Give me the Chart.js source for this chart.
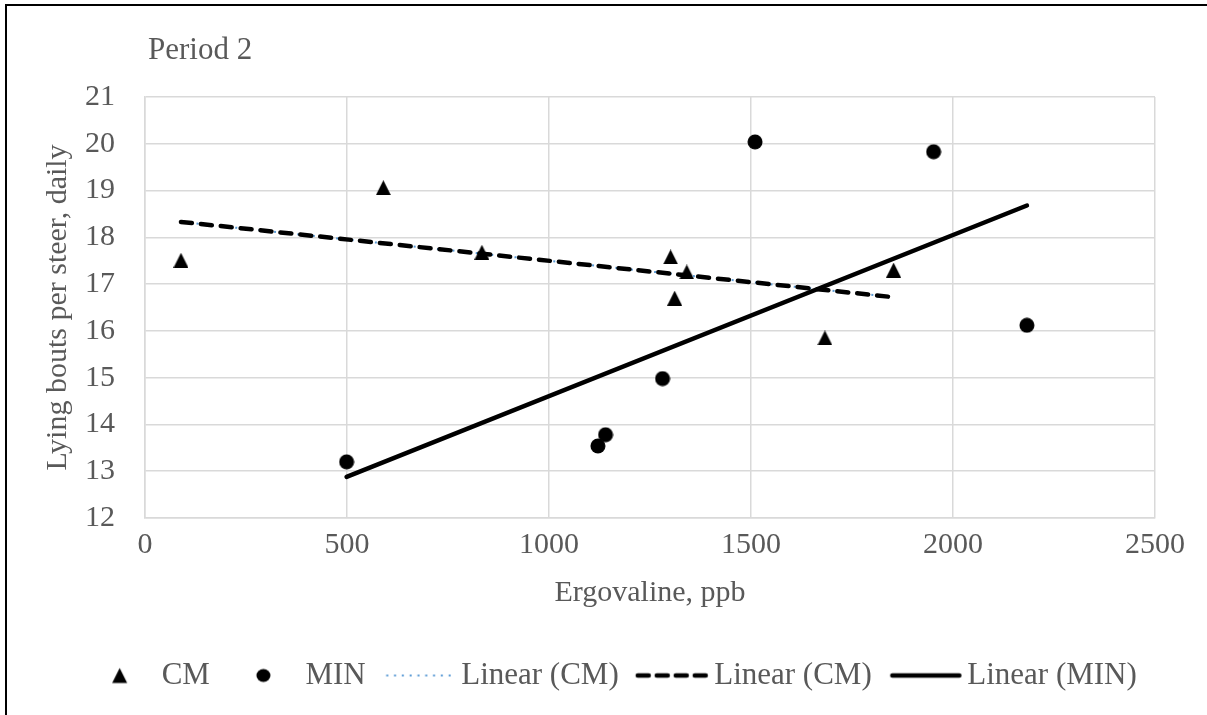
<!DOCTYPE html>
<html>
<head>
<meta charset="utf-8">
<script src="https://cdn.jsdelivr.net/npm/chart.js@4"></script>
<style>
  html, body { margin: 0; padding: 0; overflow: hidden; background: #fff; }
  #frame { position: absolute; left: 5px; top: 4px; width: 1300px; height: 800px; border: 2px solid #000; }
  #chart { position: absolute; left: 0; top: 0; }
</style>
</head>
<body>
<div id="frame"></div>
<canvas id="chart" width="1207" height="715"></canvas>
<script>
// values
const cmX = [89, 590, 834, 1301, 1311, 1341, 1683, 1853];
const cmY = [17.51, 19.06, 17.68, 17.58, 16.70, 17.26, 15.85, 17.30];
const minX = [499, 1121, 1140, 1281, 1510, 1952, 2183];
const minY = [13.20, 13.54, 13.78, 14.98, 20.04, 19.83, 16.12];
// trendline ends as drawn in the picture
const cmTrendX = [89, 1853];
const cmTrendY = [18.33, 16.72];
const minTrendX = [499, 2183];
const minTrendY = [12.88, 18.68];

const legendNames = ['CM', 'MIN', 'Linear (CM)', 'Linear (CM)', 'Linear (MIN)'];
const xTitle = 'Ergovaline, ppb';
const yTitle = 'Lying bouts per steer, daily';
const panelLabel = 'Period 2';

const fontFamily = "'Liberation Serif', 'Times New Roman', serif";
const textColor = '#595959';
const gridColor = '#d9d9d9';
const blue = '#5B9BD5';

const toPoints = (xs, ys) => xs.map((x, i) => ({x: x, y: ys[i]}));

// marker images so that the triangle sits centred on its point
function triangleImg() {
  const c = document.createElement('canvas');
  c.width = 15; c.height = 15;
  const g = c.getContext('2d');
  g.fillStyle = '#000';
  g.beginPath();
  g.moveTo(7.5, 0); g.lineTo(15, 15); g.lineTo(0, 15);
  g.closePath(); g.fill();
  return c;
}
function circleImg() {
  const c = document.createElement('canvas');
  c.width = 16; c.height = 16;
  const g = c.getContext('2d');
  g.fillStyle = '#000';
  g.beginPath(); g.arc(8, 8, 7.5, 0, Math.PI * 2); g.fill();
  return c;
}

// legend symbols, 110 wide, centre at 55
function legendSymbol(kind) {
  const c = document.createElement('canvas');
  c.width = 110; c.height = 20;
  const g = c.getContext('2d');
  const cx = 55, cy = 10;
  if (kind === 'tri') {
    g.fillStyle = '#000';
    g.beginPath();
    g.moveTo(cx + 8.5, cy - 7.5); g.lineTo(cx + 16, cy + 7.5); g.lineTo(cx + 1, cy + 7.5);
    g.closePath(); g.fill();
  } else if (kind === 'circ') {
    g.fillStyle = '#000';
    g.beginPath(); g.ellipse(cx + 8.5, cy, 7, 6.5, 0, 0, Math.PI * 2); g.fill();
  } else if (kind === 'dot') {
    g.strokeStyle = blue; g.lineWidth = 2;
    g.setLineDash([2, 5.8]);
    g.beginPath(); g.moveTo(cx - 24.5, cy); g.lineTo(cx + 45.5, cy); g.stroke();
  } else if (kind === 'dash') {
    g.strokeStyle = '#000'; g.lineWidth = 4.5; g.lineCap = 'round';
    g.setLineDash([11, 8]);
    g.beginPath(); g.moveTo(cx - 26, cy); g.lineTo(cx + 44, cy); g.stroke();
  } else {
    g.strokeStyle = '#000'; g.lineWidth = 4.5; g.lineCap = 'round';
    g.beginPath(); g.moveTo(cx - 24.5, cy); g.lineTo(cx + 42.5, cy); g.stroke();
  }
  return c;
}

const legendKinds = ['tri', 'circ', 'dot', 'dash', 'solid'];

const panelLabelPlugin = {
  id: 'panelLabel',
  afterDraw(chart) {
    const ctx = chart.ctx;
    ctx.save();
    ctx.font = '31px ' + fontFamily;
    ctx.fillStyle = textColor;
    ctx.textBaseline = 'alphabetic';
    ctx.fillText(panelLabel, 148, 59);
    ctx.restore();
  }
};

const data = {
  datasets: [
    {
      label: legendNames[0],
      data: toPoints(cmX, cmY),
      pointStyle: triangleImg(),
      order: 3
    },
    {
      label: legendNames[1],
      data: toPoints(minX, minY),
      pointStyle: circleImg(),
      order: 4
    },
    {
      label: legendNames[2],
      data: toPoints(cmTrendX, cmTrendY),
      showLine: true,
      borderColor: blue,
      borderWidth: 2,
      borderDash: [2, 5.8],
      pointRadius: 0,
      order: 2
    },
    {
      label: legendNames[3],
      data: toPoints(cmTrendX, cmTrendY),
      showLine: true,
      borderColor: '#000',
      borderWidth: 4.5,
      borderDash: [11, 9],
      borderCapStyle: 'round',
      pointRadius: 0,
      order: 1
    },
    {
      label: legendNames[4],
      data: toPoints(minTrendX, minTrendY),
      showLine: true,
      borderColor: '#000',
      borderWidth: 4.5,
      borderCapStyle: 'round',
      pointRadius: 0,
      order: 0
    }
  ]
};

const config = {
  type: 'scatter',
  data: data,
  options: {
    responsive: false,
    animation: false,
    layout: {
      padding: {left: 58, right: 52, top: 97, bottom: 14}
    },
    plugins: {
      tooltip: {enabled: false},
      title: {display: false},
      legend: {
        position: 'bottom',
        labels: {
          usePointStyle: true,
          pointStyleWidth: 70,
          padding: 10,
          color: textColor,
          font: {family: fontFamily, size: 31},
          generateLabels: (chart) => legendNames.map((name, i) => ({
            text: name,
            pointStyle: legendSymbol(legendKinds[i]),
            fillStyle: '#000',
            strokeStyle: '#000',
            lineWidth: 0,
            hidden: false,
            datasetIndex: i,
            fontColor: textColor
          }))
        }
      }
    },
    scales: {
      x: {
        type: 'linear',
        min: 0,
        max: 2500,
        afterFit: (s) => { s.height = 132; },
        grid: {color: gridColor, lineWidth: 1.5, drawTicks: false},
        border: {color: gridColor, width: 1.5},
        ticks: {
          stepSize: 500,
          padding: 9,
          color: textColor,
          font: {family: fontFamily, size: 30},
          callback: (v) => String(v)
        },
        title: {
          display: true,
          text: xTitle,
          color: textColor,
          font: {family: fontFamily, size: 30},
          padding: {top: 0, bottom: 39}
        }
      },
      y: {
        min: 12,
        max: 21,
        afterFit: (s) => { s.width = 87; },
        grid: {color: gridColor, lineWidth: 1.5, drawTicks: false},
        border: {color: gridColor, width: 1.5},
        ticks: {
          stepSize: 1,
          padding: 30,
          color: textColor,
          font: {family: fontFamily, size: 30},
          callback: (v) => String(v)
        },
        title: {
          display: true,
          text: yTitle,
          color: textColor,
          font: {family: fontFamily, size: 30},
          padding: {top: -18, bottom: 0}
        }
      }
    }
  },
  plugins: [panelLabelPlugin]
};

const myChart = new Chart(document.getElementById('chart'), config);
</script>
</body>
</html>
